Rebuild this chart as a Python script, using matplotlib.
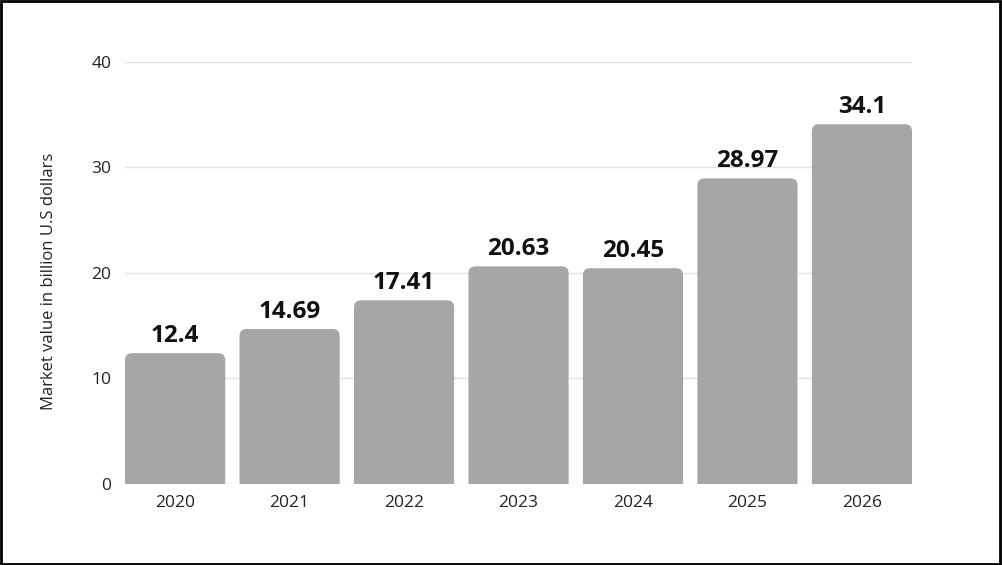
import matplotlib
matplotlib.use("Agg")
import matplotlib.pyplot as plt
from matplotlib.patches import FancyBboxPatch, Rectangle

years = ["2020", "2021", "2022", "2023", "2024", "2025", "2026"]
values = [12.4, 14.69, 17.41, 20.63, 20.45, 28.97, 34.1]
value_labels = ["12.4", "14.69", "17.41", "20.63", "20.45", "28.97", "34.1"]
yticks = [0, 10, 20, 30, 40]

plt.rcParams['font.family'] = ['Open Sans', 'DejaVu Sans']

fig = plt.figure(figsize=(10.02, 5.65), dpi=100)
ax = fig.add_axes([0.1248, 0.1434, 0.7854, 0.7469])

bar_w = 0.875
x = list(range(len(years)))
bars = ax.bar(x, values, width=bar_w, color='none', edgecolor='none')

ax.set_xlim(-bar_w / 2, len(years) - 1 + bar_w / 2)
ax.set_ylim(0, 40)

# rounded tops
fig.canvas.draw()
bbox = ax.get_window_extent()
px_per_x = bbox.width / (ax.get_xlim()[1] - ax.get_xlim()[0])
px_per_y = bbox.height / (ax.get_ylim()[1] - ax.get_ylim()[0])
aspect = px_per_x / px_per_y
r = 7 / px_per_x
for b in bars:
    bx, bw, bh = b.get_x(), b.get_width(), b.get_height()
    p = FancyBboxPatch((bx, -r * aspect * 2), bw, bh + r * aspect * 2,
                       boxstyle=f"round,pad=0,rounding_size={r}",
                       mutation_aspect=aspect, facecolor='#a6a6a6',
                       edgecolor='none', zorder=2)
    ax.add_patch(p)

for xi, v, lab in zip(x, values, value_labels):
    ax.annotate(lab, (xi, v), xytext=(0, 3.5), textcoords='offset points',
                ha='center', va='bottom', fontsize=17.5, fontweight='bold',
                color='#111111', zorder=3)

ax.set_yticks(yticks)
ax.set_xticks(x)
ax.set_xticklabels(years)
ax.grid(axis='y', color='#e2e2e2', linewidth=1, zorder=0)
ax.set_axisbelow(True)
for s in ax.spines.values():
    s.set_visible(False)
ax.tick_params(axis='both', length=0, labelsize=12.5, colors='#222222')
ax.tick_params(axis='y', pad=10)
ax.tick_params(axis='x', pad=8)
ax.set_ylabel("Market value in billion U.S dollars", fontsize=12,
              color='#222222')
ax.yaxis.set_label_coords(-0.086, 0.48)

fig.patches.append(Rectangle((0.001, 0.002), 0.997, 0.996, transform=fig.transFigure,
                             fill=False, edgecolor='black', linewidth=2))

fig.savefig("out.png", dpi=100, facecolor='white')
